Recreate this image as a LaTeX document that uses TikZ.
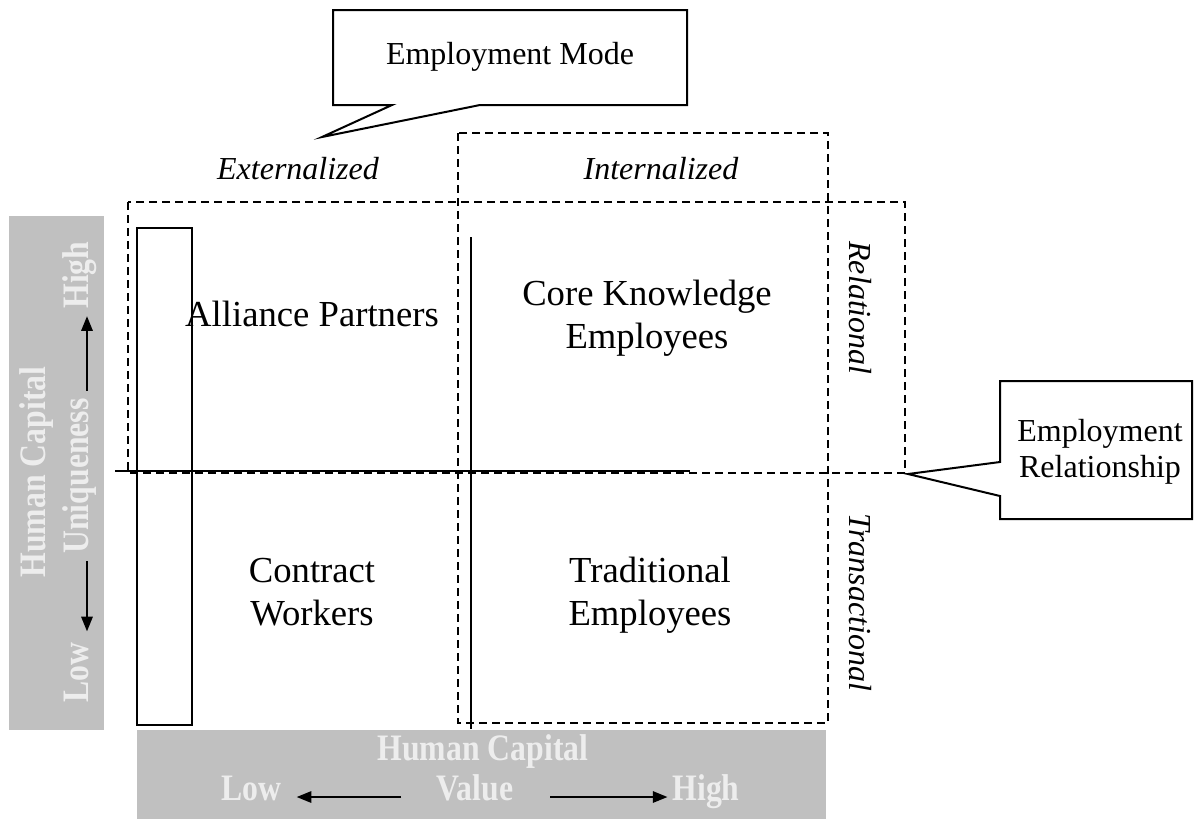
\documentclass[tikz,border=0pt]{standalone}
\usepackage{fontspec}
\setmainfont{Liberation Serif}
\newfontfamily\barfont[FakeStretch=0.85]{Liberation Serif}
\usetikzlibrary{arrows.meta}
\definecolor{barfill}{HTML}{C0C0C0}
\definecolor{bartext}{HTML}{EDEDED}

\begin{document}
\begin{tikzpicture}[x=0.75pt,y=-0.75pt,line width=1.5pt,
  quad/.style={font=\fontsize{27.5}{32}\selectfont,align=center,inner sep=0pt},
  lab/.style={font=\fontsize{24}{27}\selectfont,align=center,inner sep=0pt},
  hd/.style={font=\fontsize{24}{27}\selectfont\itshape,inner sep=0pt},
  ax/.style={font=\fontsize{28}{30}\selectfont\barfont\bfseries,text=bartext,inner sep=0pt,
    text height=.7em,text depth=.2em},
  axl/.style={ax,rotate=90,text height=.55em,text depth=.35em},
  dsh/.style={dash pattern=on 6pt off 3.75pt},
  arr/.style={-{Triangle[length=11pt,width=8.5pt]},line width=1.5pt}]
  \useasboundingbox (0,0) rectangle (1194,819);

  % axis bars
  \fill[barfill] (9,216) rectangle (104,730);
  \fill[barfill] (137,730) rectangle (826,819);

  \node[ax,rotate=90] (hcl) at (42,472) {Human Capital};
  \node[axl] (uq) at (87,476) {Uniqueness};
  \node[axl] (hi) at (87,275) {High};
  \node[axl] (lo) at (87,673) {Low};
  \draw[arr,shorten <=5pt,shorten >=5pt] (uq) -- (hi);
  \draw[arr,shorten <=5pt,shorten >=8pt] (uq) -- (lo);

  \node[ax] (hcb) at (483,757) {Human Capital};
  \node[ax] (va) at (475,797) {Value};
  \node[ax] (lw) at (251,797) {Low};
  \node[ax] (hg) at (706,797) {High};
  \draw[arr,shorten <=26pt,shorten >=11pt] (va) -- (lw);
  \draw[arr,shorten <=27pt,shorten >=3pt] (va) -- (hg);

  % regions
  \draw[dsh] (458,133) rectangle (828,723);
  \draw[dsh] (128,202) rectangle (905,473);
  \draw (137,228) rectangle (192,725);
  \draw (471,237) -- (471,729);
  \draw (115,471) -- (690,471);

  \node[hd] (ext) at (298,169) {Externalized};
  \node[hd] (int) at (661,169) {Internalized};
  \node[hd,rotate=-90] (rel) at (860,308) {Relational};
  \node[hd,rotate=-90] (tra) at (860,602) {Transactional};

  \node[quad] (ap) at (312,314) {Alliance Partners};
  \node[quad] (ck) at (647,318) {Core Knowledge\\Employees};
  \node[quad] (cw) at (312,592) {Contract\\Workers};
  \node[quad] (te) at (650,595) {Traditional\\Employees};

  % callouts
  \draw (333,10) -- (687,10) -- (687,105) -- (480,105) -- (322,137) -- (392,105) -- (333,105) -- cycle;
  \node[lab] (em) at (510,57) {Employment Mode};
  \draw (1000,381) -- (1192,381) -- (1192,519) -- (1000,519) -- (1000,496) -- (908,474) -- (1000,462) -- cycle;
  \node[lab] (er) at (1100,452) {Employment\\Relationship};
\end{tikzpicture}
\end{document}
